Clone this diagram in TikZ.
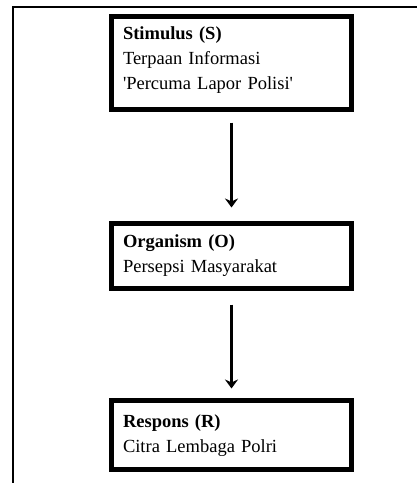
\documentclass[tikz,border=0pt]{standalone}
\usepackage{fontspec}
\setmainfont{Liberation Serif}
\usetikzlibrary{arrows.meta}
\begin{document}
\begin{tikzpicture}[x=1pt,y=-1pt,
  frameline/.style={line width=2pt},
  box/.style={draw, line width=5pt, rectangle, anchor=north west, outer sep=0pt,
    minimum width=240pt, inner xsep=11.5pt, inner ysep=0pt,
    text width=217pt, align=left,
    font=\fontsize{18.5}{25}\selectfont},
  arr/.style={line width=2.5pt, -{Stealth[length=9pt,width=13pt]}}]
\useasboundingbox (0,0) rectangle (417,483);
\coordinate (ftr) at (417,6.5);
\coordinate (ftl) at (13.3,6.5);
\coordinate (fbl) at (13.3,483);
\draw[frameline] (ftr) -- (ftl) -- (fbl);
\node[box, minimum height=93pt] (s) at (111.5,16.5)
  {\textbf{Stimulus (S)}\\Terpaan Informasi\\\textquotesingle Percuma Lapor Polisi\textquotesingle\\[-15pt]\mbox{}};
\node[box, minimum height=65pt] (o) at (111.5,223.5)
  {\textbf{Organism (O)}\\Persepsi Masyarakat\\[-20pt]\mbox{}};
\node[box, minimum height=69pt] (r) at (111.5,400.5)
  {\textbf{Respons (R)}\\Citra Lembaga Polri\\[-23pt]\mbox{}};
\draw[arr] ([yshift=-13pt]s.south) -- ([yshift=16pt]o.north);
\draw[arr] ([yshift=-16pt]o.south) -- ([yshift=12pt]r.north);
\end{tikzpicture}
\end{document}
